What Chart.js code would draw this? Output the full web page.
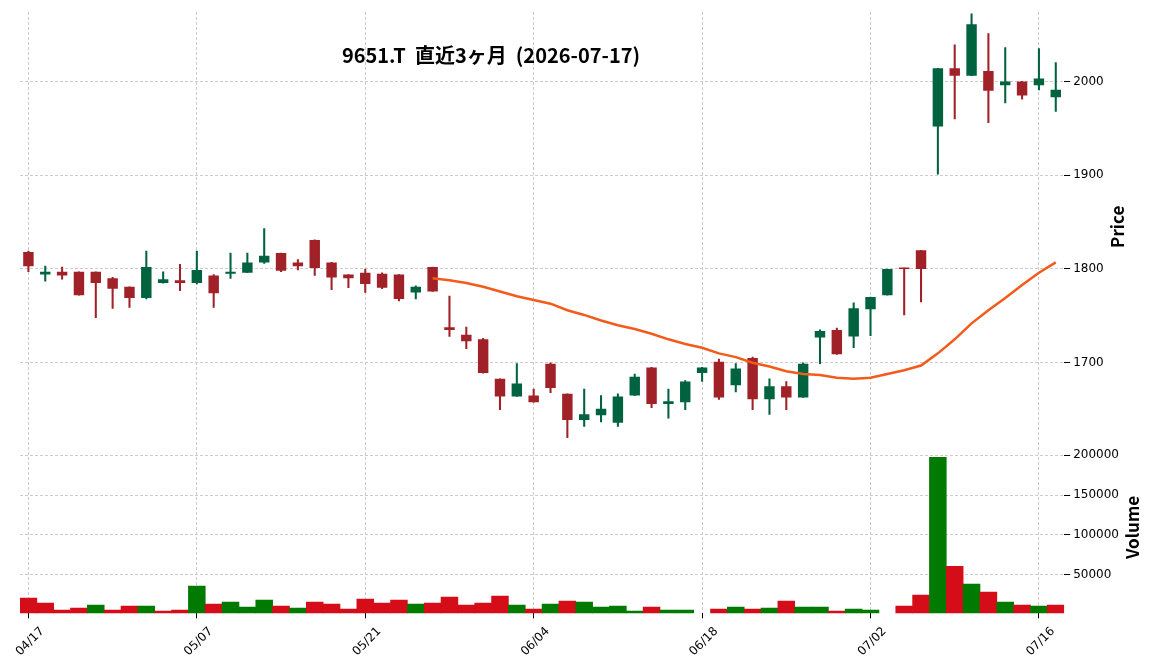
<!DOCTYPE html>
<html lang="ja">
<head>
<meta charset="UTF-8">
<title>9651.T 直近3ヶ月</title>
<script src="https://cdn.jsdelivr.net/npm/chart.js"></script>
<style>
  html, body { margin: 0; padding: 0; background: #fff; }
  canvas { display: block; }
</style>
</head>
<body>
<canvas id="chart" width="1152" height="670"></canvas>
<script>
// trading days shown on the x axis
const dates = ['04/17','04/20','04/21','04/22','04/23','04/24','04/27','04/28','04/30','05/01',
  '05/07','05/08','05/11','05/12','05/13','05/14','05/15','05/18','05/19','05/20',
  '05/21','05/22','05/25','05/26','05/27','05/28','05/29','06/01','06/02','06/03',
  '06/04','06/05','06/08','06/09','06/10','06/11','06/12','06/15','06/16','06/17',
  '06/18','06/19','06/22','06/23','06/24','06/25','06/26','06/29','06/30','07/01',
  '07/02','07/03','07/06','07/07','07/08','07/09','07/10','07/13','07/14','07/15',
  '07/16','07/17'];

const opens = [1818,1794,1797,1797,1797,1790,1781,1769,1785,1788,
  1785,1793,1795,1796,1807,1817,1807,1831,1807,1794,
  1796,1795,1794,1775,1802,1738,1730,1725,1683,1664,
  1665,1699,1667,1639,1644,1636,1665,1695,1656,1658,
  1689,1701,1676,1705,1661,1675,1663,1727,1735,1728,
  1757,1772,1801,1820,1952,2014,2006,2011,1996,2000,
  1996,1983];
const highs = [1819,1803,1802,1797,1797,1791,1781,1819,1797,1805,
  1819,1794,1817,1817,1843,1817,1810,1831,1807,1794,
  1800,1796,1794,1782,1802,1771,1738,1726,1683,1699,
  1672,1700,1667,1672,1665,1667,1688,1695,1672,1681,
  1695,1704,1699,1706,1683,1680,1700,1735,1737,1764,
  1770,1800,1801,1820,2014,2039,2072,2051,2036,2000,
  2035,2020];
const lows = [1797,1787,1789,1772,1748,1758,1759,1768,1785,1777,
  1784,1759,1790,1796,1806,1797,1799,1793,1778,1780,
  1775,1779,1766,1768,1776,1728,1715,1689,1650,1664,
  1658,1668,1620,1632,1637,1632,1665,1652,1641,1650,
  1680,1661,1669,1650,1645,1650,1663,1699,1709,1716,
  1729,1772,1751,1765,1901,1960,2006,1956,1977,1981,
  1991,1968];
const closes = [1803,1797,1793,1772,1785,1779,1769,1802,1789,1785,
  1799,1774,1797,1807,1814,1798,1803,1801,1791,1790,
  1784,1780,1768,1781,1776,1735,1723,1689,1664,1678,
  1658,1673,1639,1645,1651,1664,1685,1656,1659,1680,
  1695,1663,1694,1661,1675,1663,1699,1734,1709,1758,
  1770,1800,1800,1800,2014,2006,2061,1990,2000,1985,
  2003,1991];
// volume (no value on 06/18 and 07/03)
const volumes = [20400,14100,5400,7900,11600,5400,10400,10400,4100,5400,
  35400,12900,15400,9100,17900,10400,7900,15400,12900,6600,
  19100,14100,17900,12900,14100,21600,11600,14100,22900,11600,
  6600,12900,16600,15400,9100,10400,4100,9100,5400,5400,
  null,6600,9100,6600,7900,16600,9100,9100,4100,6600,
  5400,null,10400,24100,197500,60400,37900,27900,15400,11600,
  10400,11600];
// 25-day moving average, starts on the 25th day
const ma25 = Array(24).fill(null).concat([1790,1788,1785,1781,1776,1771,1767,1763,1756,1751,
  1745,1740,1736,1731,1725,1720,1716,1710,1706,1700,1696,1691,1688,1687,1684,1683,
  1684,1688,1692,1697,1710,1725,1742,1756,1769,1783,1796,1807]);

const priceTicks = [1700, 1800, 1900, 2000];
const volumeTicks = [50000, 100000, 150000, 200000];
const titleText = '9651.T  直近3ヶ月  (2026-07-17)';

const UP = '#006340', DOWN = '#a02128';
const VUP = '#007a00', VDOWN = '#d50d18';
const GRID = '#cccccc';
const tickFont = { family: '"DejaVu Sans"', size: 12 };

const candleColors = opens.map((o, i) => closes[i] >= o ? UP : DOWN);
const volColors = closes.map((c, i) => (i > 0 && c > closes[i - 1]) ? VUP : VDOWN);

// title and rotated axis labels (matplotlib style)
const labels = {
    id: 'labels',
    afterDraw(chart) {
        const { ctx, scales } = chart;
        ctx.save();
        ctx.fillStyle = '#000';
        ctx.textAlign = 'center';
        ctx.textBaseline = 'middle';
        ctx.font = 'bold 20px "Noto Sans CJK JP"';
        ctx.fillText(titleText, 491, 55);
        ctx.font = 'bold 17px "Noto Sans CJK JP"';
        [[scales.yPrice, 'Price', 1118], [scales.yVol, 'Volume', 1133]].forEach(([s, t, x]) => {
            ctx.save();
            ctx.translate(x, (s.top + s.bottom) / 2);
            ctx.rotate(-Math.PI / 2);
            ctx.fillText(t, 0, 0);
            ctx.restore();
        });
        ctx.restore();
    }
};

const xGrid = c => (c.index % 10 === 0 ? GRID : 'rgba(0,0,0,0)');
const xTick = c => (c.index % 10 === 0 ? '#000' : 'rgba(0,0,0,0)');

new Chart(document.getElementById('chart'), {
    type: 'bar',
    data: {
        labels: dates,
        datasets: [
            {
                type: 'line', label: 'MA25', data: ma25, yAxisID: 'yPrice',
                borderColor: '#f35b1a', borderWidth: 2.5, pointRadius: 0, tension: 0, order: 0
            },
            {
                label: 'body', data: opens.map((o, i) => [o, closes[i]]), yAxisID: 'yPrice',
                backgroundColor: candleColors, barPercentage: 0.62, categoryPercentage: 1,
                grouped: false, minBarLength: 1.5, order: 1
            },
            {
                label: 'wick', data: lows.map((l, i) => [l, highs[i]]), yAxisID: 'yPrice',
                backgroundColor: candleColors, barThickness: 1.4, grouped: false, order: 2
            },
            {
                label: 'Volume', data: volumes, yAxisID: 'yVol',
                backgroundColor: volColors, barPercentage: 1, categoryPercentage: 1,
                grouped: false, order: 3
            }
        ]
    },
    options: {
        responsive: false,
        animation: false,
        layout: { padding: { top: 12, left: 20, right: 30, bottom: 5 } },
        plugins: { legend: { display: false }, tooltip: { enabled: false } },
        scales: {
            x: {
                offset: true,
                afterFit: s => { s.paddingLeft = 0; s.paddingRight = 0; },
                grid: { offset: false, color: xGrid, tickColor: xTick, tickLength: 5, lineWidth: 1 },
                border: { display: false, dash: [3, 2] },
                ticks: {
                    autoSkip: false, maxRotation: 45, minRotation: 45, labelOffset: 14, padding: 6,
                    color: '#000', font: tickFont,
                    callback: (v, i) => (i % 10 === 0 ? dates[i] : '')
                }
            },
            yPrice: {
                type: 'linear', position: 'right', stack: 'panes', stackWeight: 5,
                min: 1616, max: 2074,
                afterBuildTicks: a => { a.ticks = priceTicks.map(v => ({ value: v })); },
                grid: { color: GRID, tickColor: '#000', tickLength: 6, lineWidth: 1 },
                border: { display: false, dash: [3, 2] },
                ticks: { color: '#000', font: tickFont, padding: 3, callback: v => String(v) }
            },
            yVol: {
                type: 'linear', position: 'right', stack: 'panes', stackWeight: 2,
                min: 1230, max: 217250,
                afterBuildTicks: a => { a.ticks = volumeTicks.map(v => ({ value: v })); },
                grid: { color: GRID, tickColor: '#000', tickLength: 6, lineWidth: 1 },
                border: { display: false, dash: [3, 2] },
                ticks: { color: '#000', font: tickFont, padding: 3, callback: v => String(v) }
            }
        }
    },
    plugins: [labels]
});
</script>
</body>
</html>
